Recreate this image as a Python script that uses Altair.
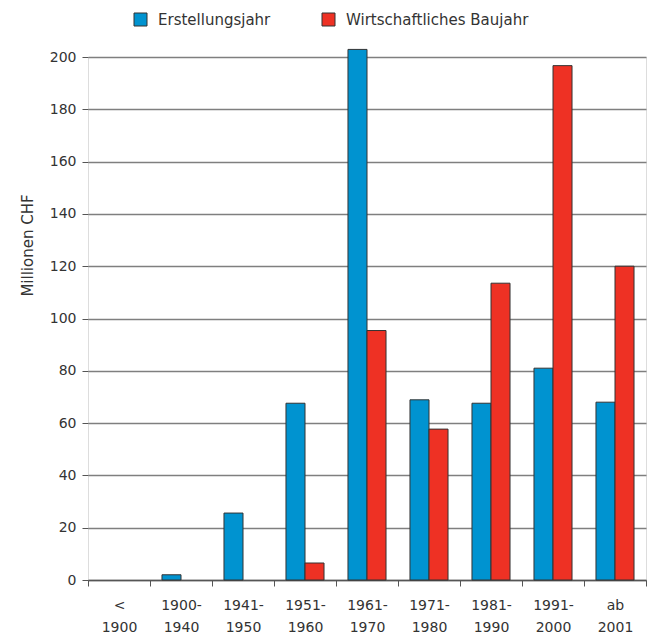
import altair as alt
import pandas as pd

categories = ["<\n1900", "1900-\n1940", "1941-\n1950", "1951-\n1960", "1961-\n1970",
              "1971-\n1980", "1981-\n1990", "1991-\n2000", "ab\n2001"]
series = ["Erstellungsjahr", "Wirtschaftliches Baujahr"]
erstellungsjahr = [0, 2.0, 25.6, 67.6, 202.9, 68.9, 67.6, 81.0, 68.0]
wirtschaftlich = [0, 0, 0, 6.5, 95.4, 57.7, 113.5, 196.7, 120.0]
y_ticks = [0, 20, 40, 60, 80, 100, 120, 140, 160, 180, 200]
colors = ["#0093D0", "#EE3124"]

rows = []
for c, a, b in zip(categories, erstellungsjahr, wirtschaftlich):
    rows.append({"Periode": c, "Serie": series[0], "Wert": a})
    rows.append({"Periode": c, "Serie": series[1], "Wert": b})
df = pd.DataFrame(rows)

FONT = "DejaVu Sans"

chart = alt.Chart(df).transform_filter(
    alt.datum.Wert > 0
).mark_bar(stroke="#333333", strokeWidth=1).encode(
    x=alt.X("Periode:N", sort=categories,
            scale=alt.Scale(domain=categories, paddingInner=0, paddingOuter=0),
            axis=alt.Axis(title=None, labelAngle=0, tickBand="extent",
                          labelExpr="isValid(datum.value) ? split(datum.value, '\\n') : ''",
                          labelFont=FONT, labelFontSize=14, labelColor="#333333",
                          labelLineHeight=22, labelPadding=12,
                          tickSize=6, tickColor="#555555", tickWidth=1,
                          domainColor="#555555", domainWidth=1.5)),
    xOffset=alt.XOffset("Serie:N", sort=series,
                        scale=alt.Scale(domain=series, paddingOuter=0.63, paddingInner=0)),
    y=alt.Y("Wert:Q", scale=alt.Scale(domain=[0, 200], nice=False),
            axis=alt.Axis(title="Millionen CHF", values=y_ticks, domain=False,
                          grid=True, gridColor="#7f7f7f", gridWidth=1.5,
                          tickSize=6, tickColor="#555555", tickWidth=1,
                          labelFont=FONT, labelFontSize=14, labelColor="#333333",
                          labelPadding=6,
                          titleFont=FONT, titleFontSize=15, titleFontWeight="normal",
                          titleColor="#333333", titleX=-61, titleY=188,
                          titleBaseline="middle", titleAngle=270)),
    color=alt.Color("Serie:N", sort=series,
                    scale=alt.Scale(domain=series, range=colors),
                    legend=alt.Legend(title=None, orient="none", direction="horizontal",
                                      legendX=45, legendY=-45,
                                      symbolType="square", symbolSize=169,
                                      symbolStrokeColor="#333333", symbolStrokeWidth=1,
                                      labelFont=FONT, labelFontSize=15, labelLimit=400,
                                      labelColor="#333333", labelOffset=10,
                                      columnPadding=49)),
).properties(
    width=558, height=523,
    autosize=alt.AutoSizeParams(type="none"),
    padding={"left": 80, "top": 49, "right": 2, "bottom": 54},
).configure_view(stroke=None).configure(background="white")

chart.save("out.html", embed_options={"renderer": "svg", "actions": False})
